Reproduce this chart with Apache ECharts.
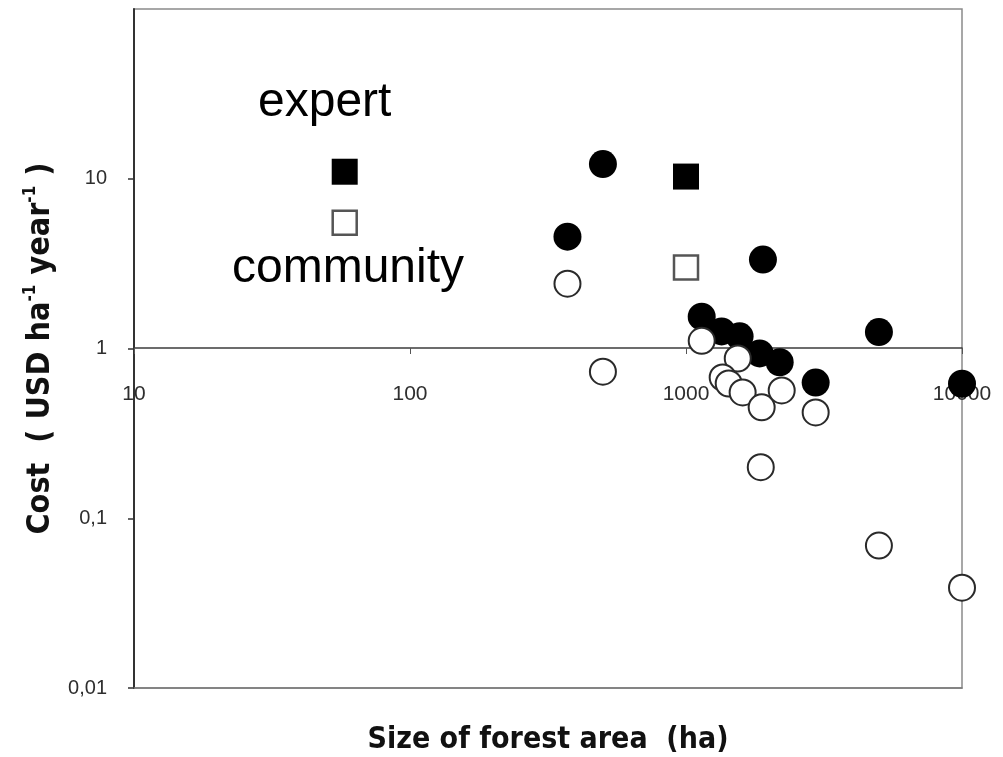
<!DOCTYPE html>
<html>
<head>
<meta charset="utf-8">
<script src="https://cdn.jsdelivr.net/npm/echarts@6/dist/echarts.min.js"></script>
<style>
html,body{margin:0;padding:0;background:#fff;}
#chart{width:1003px;height:757px;}
</style>
</head>
<body>
<div id="chart"></div>
<script>
// Forest area (ha) and cost (USD ha-1 year-1)
const expertSquareX = [58, 1000];
const expertSquareY = [11.0, 10.3];
const communitySquareX = [58, 1000];
const communitySquareY = [5.5, 3.0];

const expertCircleX = [500, 372, 1900, 1140, 1346, 1564, 1849, 2185, 5000, 2950, 10000];
const expertCircleY = [12.2, 4.56, 3.34, 1.54, 1.26, 1.18, 0.935, 0.83, 1.25, 0.63, 0.62];

const communityCircleX = [372, 500, 1140, 1540, 1358, 1428, 1604, 1880, 2222, 2950, 1866, 5000, 10000];
const communityCircleY = [2.41, 0.73, 1.11, 0.873, 0.675, 0.622, 0.551, 0.45, 0.566, 0.42, 0.2, 0.069, 0.039];

const xTickValues = [10, 100, 1000, 10000];
const xTickLabels = ['10', '100', '1000', '10000'];
const yTickValues = [0.01, 0.1, 1, 10];
const yTickLabels = ['0,01', '0,1', '1', '10'];

const annotationTexts = ['expert', 'community'];
const xAxisTitle = 'Size of forest area  (ha)';

function pairs(xs, ys) { return xs.map((x, i) => [x, ys[i]]); }
function lookup(values, labels, v) {
  const i = values.findIndex(t => Math.abs(Math.log10(t) - Math.log10(v)) < 1e-6);
  return i >= 0 ? labels[i] : '';
}

const chart = echarts.init(document.getElementById('chart'), null, {renderer: 'canvas'});
const titleFont = "'DejaVu Sans Condensed', 'Liberation Sans Narrow', 'Arial Narrow', 'Liberation Sans', sans-serif";
const labelFont = "'Liberation Sans', Arial, sans-serif";

const option = {
  backgroundColor: '#fff',
  animation: false,
  grid: {
    left: 134, right: 41, top: 9, bottom: 69,
    containLabel: false,
    outerBoundsMode: 'none',
    show: true,
    borderColor: '#8a8a8a',
    borderWidth: 1.5,
    backgroundColor: 'transparent'
  },
  xAxis: [
    {
      type: 'log', logBase: 10, min: 10, max: 10000,
      position: 'bottom',
      offset: -340,
      axisLine: {show: true, lineStyle: {color: '#3c3c3c', width: 1.5}},
      axisTick: {show: true, length: 6, inside: false, customValues: xTickValues, lineStyle: {color: '#555', width: 1}},
      axisLabel: {
        show: true, margin: 36, customValues: xTickValues,
        color: '#2e2e2e', fontSize: 21, fontFamily: labelFont,
        formatter: v => lookup(xTickValues, xTickLabels, v)
      },
      splitLine: {show: false},
      minorTick: {show: false}
    },
    {
      type: 'log', logBase: 10, min: 10, max: 10000,
      position: 'bottom',
      axisLine: {show: true, lineStyle: {color: '#7a7a7a', width: 1.5}},
      axisTick: {show: false},
      axisLabel: {show: false},
      splitLine: {show: false},
      name: xAxisTitle,
      nameLocation: 'middle',
      nameGap: 37,
      nameTextStyle: {color: '#111', fontSize: 30, fontWeight: 'bold', fontFamily: titleFont}
    }
  ],
  yAxis: {
    type: 'log', logBase: 10, min: 0.01, max: 100,
    axisLine: {show: true, lineStyle: {color: '#333', width: 2}},
    axisTick: {show: true, length: 6, customValues: yTickValues, lineStyle: {color: '#333', width: 1.5}},
    axisLabel: {
      show: true, margin: 27, customValues: yTickValues,
      color: '#2e2e2e', fontSize: 20, fontFamily: labelFont,
      formatter: v => lookup(yTickValues, yTickLabels, v)
    },
    splitLine: {show: false},
    minorTick: {show: false},
    name: '{a|Cost  ( USD ha}{s|-1}{a| year}{s|-1}{a| )}',
    nameLocation: 'middle',
    nameRotate: 90,
    nameGap: 73,
    nameTextStyle: {
      color: '#111', fontWeight: 'bold', fontFamily: titleFont,
      rich: {
        a: {fontSize: 32, fontWeight: 'bold', fontFamily: titleFont, color: '#111', verticalAlign: 'bottom', lineHeight: 35},
        s: {fontSize: 17, fontWeight: 'bold', fontFamily: titleFont, color: '#111', verticalAlign: 'top', lineHeight: 35}
      }
    }
  },
  series: [
    {
      name: 'expert squares', type: 'scatter', symbol: 'rect', symbolSize: 26,
      itemStyle: {color: '#000', borderColor: '#000', borderWidth: 0, opacity: 1},
      data: pairs(expertSquareX, expertSquareY), z: 3
    },
    {
      name: 'community squares', type: 'scatter', symbol: 'rect', symbolSize: 24,
      itemStyle: {color: '#fff', borderColor: '#555', borderWidth: 2.5, opacity: 1},
      data: pairs(communitySquareX, communitySquareY), z: 3
    },
    {
      name: 'expert circles', type: 'scatter', symbol: 'circle', symbolSize: 28,
      itemStyle: {color: '#000', borderColor: '#000', borderWidth: 0, opacity: 1},
      data: pairs(expertCircleX, expertCircleY), z: 3
    },
    {
      name: 'community circles', type: 'scatter', symbol: 'circle', symbolSize: 26,
      itemStyle: {color: '#fff', borderColor: '#2a2a2a', borderWidth: 2, opacity: 1},
      data: pairs(communityCircleX, communityCircleY), z: 4
    }
  ],
  graphic: [
    {type: 'text', left: 258, top: 79, z: 10,
     style: {text: annotationTexts[0], font: "48px 'Liberation Sans', Arial, sans-serif", fill: '#000'}},
    {type: 'text', left: 232, top: 245, z: 10,
     style: {text: annotationTexts[1], font: "48px 'Liberation Sans', Arial, sans-serif", fill: '#000'}}
  ]
};
chart.setOption(option);
</script>
</body>
</html>
